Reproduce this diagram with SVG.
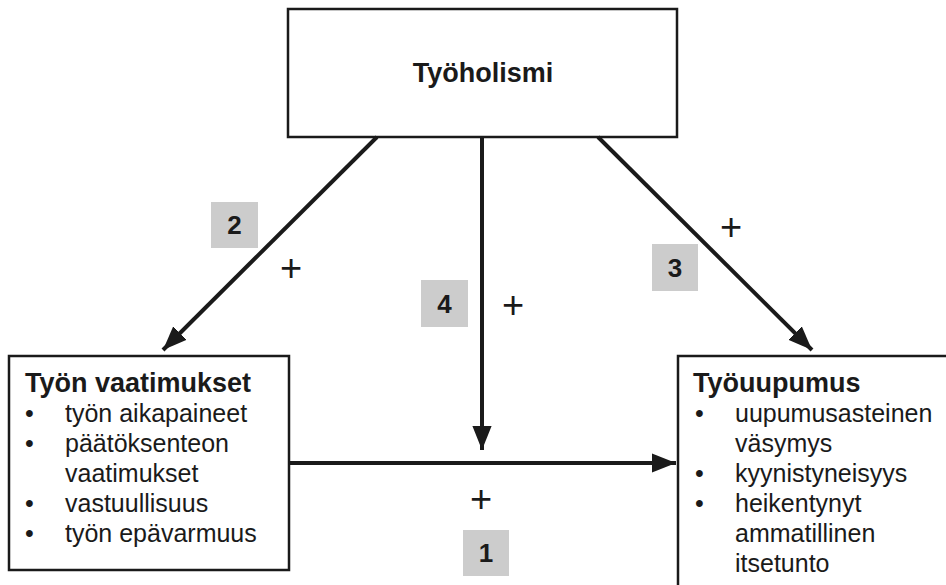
<svg xmlns="http://www.w3.org/2000/svg" width="946" height="585" viewBox="0 0 946 585">
<defs>
<marker id="ah" viewBox="0 0 10 10" refX="10" refY="5" markerWidth="6" markerHeight="6" markerUnits="strokeWidth" orient="auto">
<path d="M0,1 L10,5 L0,9 z" fill="#1a1a1a"/>
</marker>
<style>
.box{fill:#fff;stroke:#1a1a1a;stroke-width:2.5}
.t{font-family:"Liberation Sans",Arial,sans-serif;fill:#1a1a1a}
.title{font-weight:bold;font-size:27px}
.item{font-size:25px}
.num{fill:#cccccc;stroke:none}
.numt{font-family:"Liberation Sans",Arial,sans-serif;font-weight:bold;font-size:26px;fill:#1a1a1a;text-anchor:middle}
.plus{font-family:"Liberation Sans",Arial,sans-serif;font-size:38px;fill:#1a1a1a;text-anchor:middle}
.c{stroke:#1a1a1a;stroke-width:4;fill:none;marker-end:url(#ah)}
</style>
</defs>
<rect width="946" height="585" fill="#fff"/>
<g id="tyoholismi">
<rect class="box" x="288" y="9" width="389" height="128"/>
<text class="t title" x="483" y="82" text-anchor="middle">Työholismi</text>
</g>
<g id="tyon-vaatimukset">
<rect class="box" x="9" y="356" width="280" height="214"/>
<text class="t title" x="25" y="392">Työn vaatimukset</text>
<g class="t item">
<text x="25" y="422">•</text><text x="65" y="422">työn aikapaineet</text>
<text x="25" y="452">•</text><text x="65" y="452">päätöksenteon</text>
<text x="65" y="482">vaatimukset</text>
<text x="25" y="512">•</text><text x="65" y="512">vastuullisuus</text>
<text x="25" y="542">•</text><text x="65" y="542">työn epävarmuus</text>
</g>
</g>
<g id="tyouupumus">
<rect class="box" x="678" y="356" width="280" height="240"/>
<text class="t title" x="693" y="392">Työuupumus</text>
<g class="t item">
<text x="695" y="422">•</text><text x="735" y="422">uupumusasteinen</text>
<text x="735" y="452">väsymys</text>
<text x="695" y="482">•</text><text x="735" y="482">kyynistyneisyys</text>
<text x="695" y="512">•</text><text x="735" y="512">heikentynyt</text>
<text x="735" y="542">ammatillinen</text>
<text x="735" y="572">itsetunto</text>
</g>
</g>
<g id="connectors">
<line class="c" x1="377" y1="137" x2="163" y2="350"/>
<line class="c" x1="482" y1="137" x2="482" y2="450"/>
<line class="c" x1="598" y1="137" x2="812" y2="350"/>
<line class="c" x1="289" y1="463" x2="676" y2="463"/>
</g>
<g id="labels">
<rect class="num" x="211" y="202" width="47" height="46"/>
<text class="numt" x="234.5" y="234">2</text>
<rect class="num" x="421" y="280" width="47" height="47"/>
<text class="numt" x="444.5" y="313">4</text>
<rect class="num" x="652" y="244" width="46" height="47"/>
<text class="numt" x="675" y="277">3</text>
<rect class="num" x="463" y="530" width="46" height="46"/>
<text class="numt" x="486" y="562">1</text>
<text class="plus" x="291" y="281">+</text>
<text class="plus" x="513" y="318">+</text>
<text class="plus" x="731" y="240">+</text>
<text class="plus" x="481" y="512">+</text>
</g>
</svg>
